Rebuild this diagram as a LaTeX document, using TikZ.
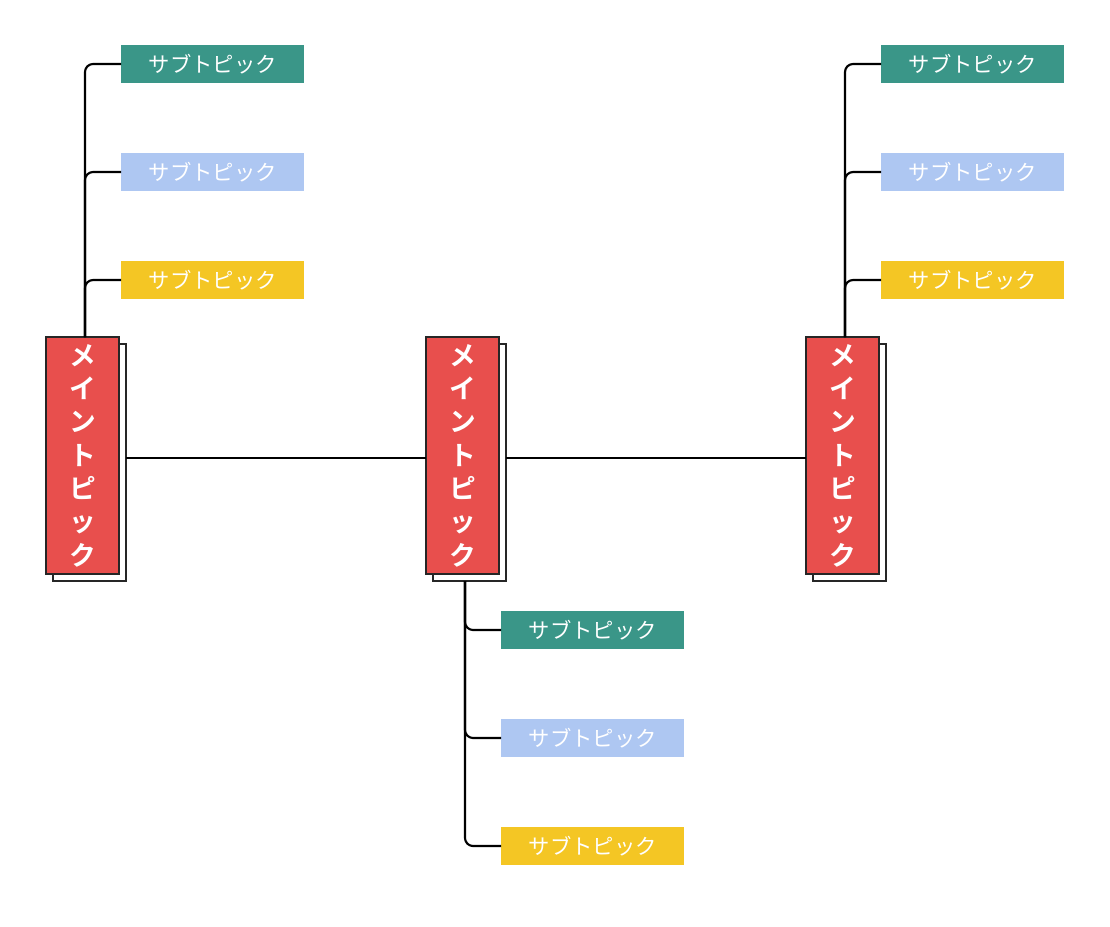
\documentclass[tikz,border=0pt]{standalone}
\usepackage{fontspec}
\newfontfamily\jp{Noto Sans CJK JP}
\newfontfamily\jpb{Noto Sans CJK JP Bold}
\definecolor{teal1}{HTML}{3A9688}
\definecolor{blue1}{HTML}{AEC7F2}
\definecolor{yel1}{HTML}{F4C624}
\definecolor{red1}{HTML}{E84F4D}
\tikzset{
  shadowbox/.style={draw=black!85,fill=white,line width=0.9pt},
  mainbox/.style={draw=black!85,fill=red1,line width=0.9pt},
  sub/.style={anchor=west,minimum width=137.25pt,minimum height=28.5pt,inner sep=0pt,text=white,font=\jp\fontsize{16}{16}\selectfont},
  conn/.style={line width=1.6pt,rounded corners=6pt},
}
\begin{document}
\begin{tikzpicture}[x=0.75pt,y=-0.75pt]
\useasboundingbox (0,0) rectangle (1110,926);
\foreach \n/\x in {L/46,M/426,R/806}{
  \draw[shadowbox] (\x+7,344) rectangle (\x+80,581);
  \draw[mainbox] (\x,337) rectangle (\x+73,574);
  \node[text=white,font=\jpb\fontsize{20}{25}\selectfont,align=center] (\n) at (\x+36.5,455.5) {メ\\イ\\ン\\ト\\ピ\\ッ\\ク};
  \coordinate (\n s) at (\x+80,458);
  \coordinate (\n w) at (\x,458);
}
\draw[line width=1.6pt] (Ls) -- (Mw);
\draw[line width=1.6pt] (Ms) -- (Rw);
% left subtopics
\foreach \n/\x/\t in {L/85/337,R/845/337}{
  \node[sub,fill=teal1] (\n1) at (\x+36,64) {サブトピック};
  \node[sub,fill=blue1] (\n2) at (\x+36,172) {サブトピック};
  \node[sub,fill=yel1] (\n3) at (\x+36,280) {サブトピック};
  \coordinate (\n b) at (\x,\t);
  \draw[conn] (\n b) -- (\x,64) -- (\n1.west);
  \draw[conn] (\n b) -- (\x,172) -- (\n2.west);
  \draw[conn] (\n b) -- (\x,280) -- (\n3.west);
}
\node[sub,fill=teal1] (M1) at (501,630) {サブトピック};
\node[sub,fill=blue1] (M2) at (501,738) {サブトピック};
\node[sub,fill=yel1] (M3) at (501,846) {サブトピック};
\coordinate (Mb) at (465,581);
\draw[conn] (Mb) -- (465,630) -- (M1.west);
\draw[conn] (Mb) -- (465,738) -- (M2.west);
\draw[conn] (Mb) -- (465,846) -- (M3.west);
\end{tikzpicture}
\end{document}
